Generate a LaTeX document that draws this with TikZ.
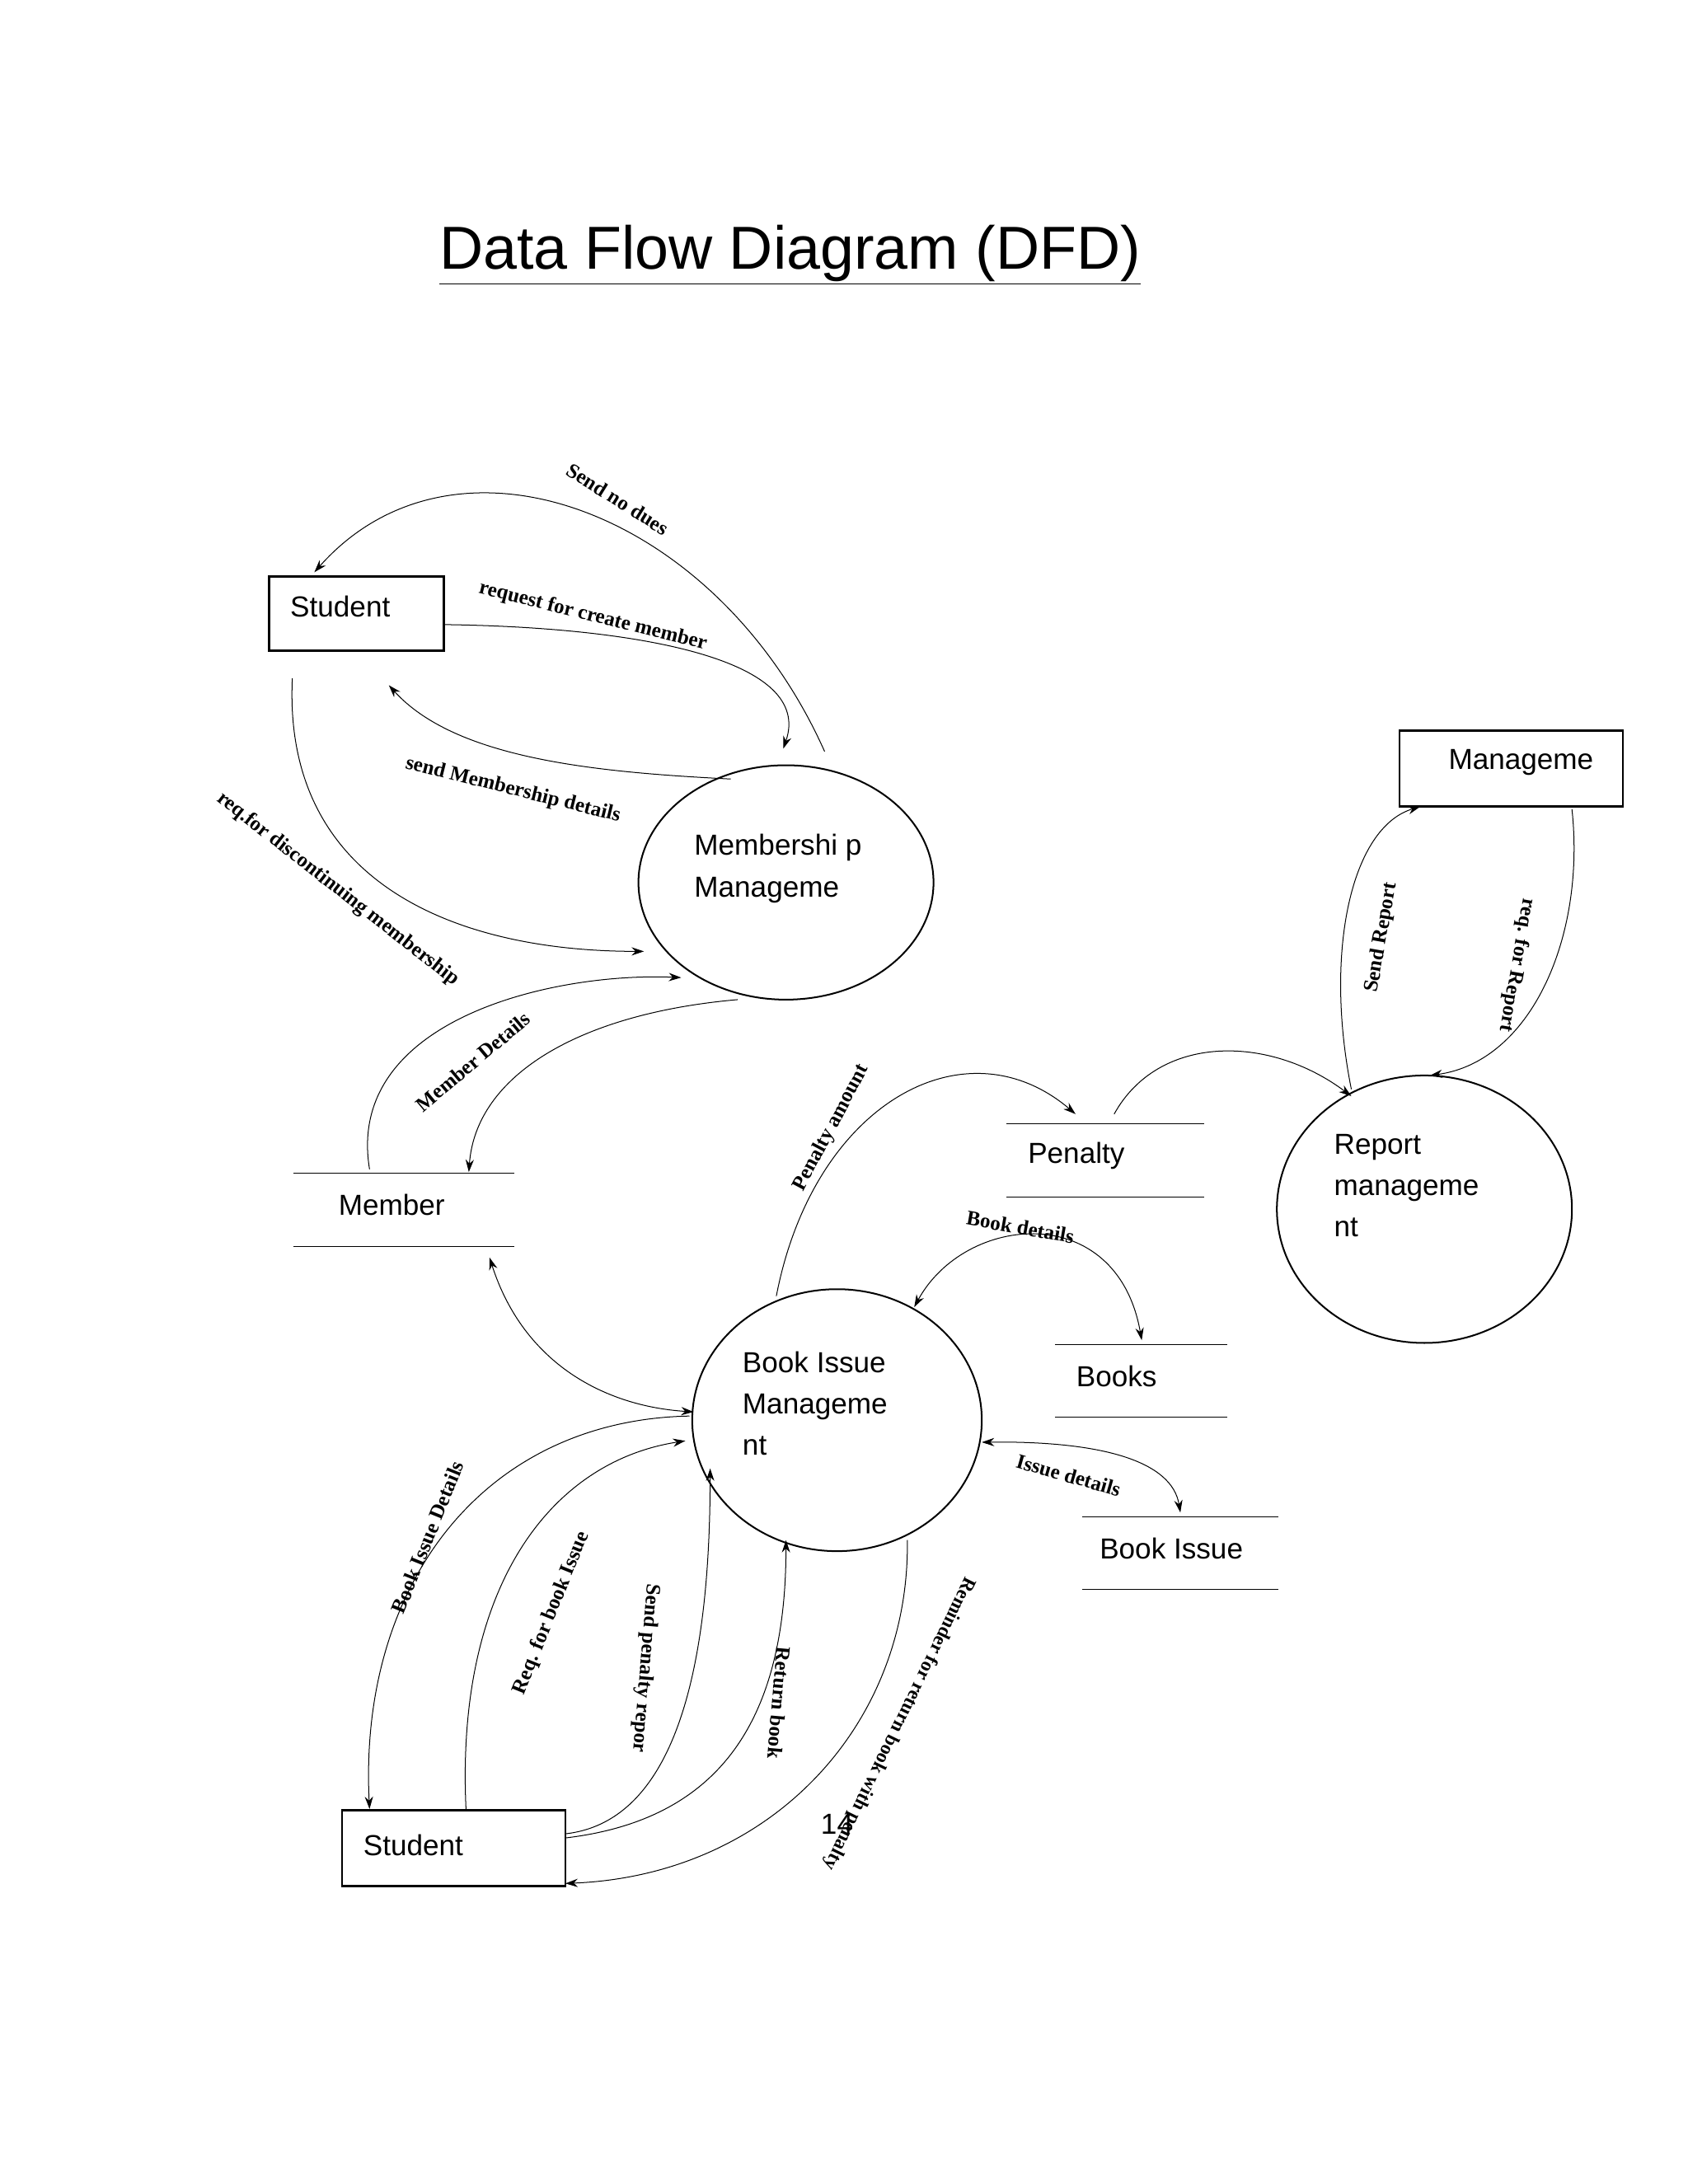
\documentclass[tikz,border=0pt]{standalone}
\usepackage{fontspec}
\setmainfont{Liberation Sans}
\newfontfamily\lbl{Liberation Serif}
\usetikzlibrary{arrows.meta}
\begin{document}
\begin{tikzpicture}[x=1pt,y=-1pt,
  flow/.style={-{Stealth[length=9pt,width=6pt]},line width=0.6pt},
  bflow/.style={{Stealth[length=9pt,width=6pt]}-{Stealth[length=9pt,width=6pt]},line width=0.6pt},
  lab/.style={font=\lbl\bfseries\fontsize{15}{15}\selectfont},
  txt/.style={font=\fontsize{21}{30}\selectfont,anchor=west,align=left},
  ent/.style={draw,line width=1.6pt},
  proc/.style={draw,line width=1.2pt},
  store/.style={line width=0.6pt}]
\useasboundingbox (0,0) rectangle (1224,1584);
\node[font=\fontsize{44}{48}\selectfont] (title) at (573,185) {\underline{Data Flow Diagram (DFD)}};
% entities
\draw[ent] (195,418) rectangle (322,472);
\node[txt] (stu1) at (207,440) {Student};
\draw[ent] (1015,530) rectangle (1177,585);
\node[txt] (mgmt) at (1047,553) {Manageme};
\draw[ent] (248,1313) rectangle (410,1368);
\node[txt] (stu2) at (260,1338) {Student};
% processes
\draw[proc] (570,640) ellipse [x radius=107,y radius=85];
\node[txt] (mp) at (500,630) {Membershi p\\Manageme};
\draw[proc] (1033,877) ellipse [x radius=107,y radius=97];
\node[txt] (rm) at (964,860) {Report\\manageme\\nt};
\draw[proc] (607,1030) ellipse [x radius=105,y radius=95];
\node[txt] (bim) at (535,1018) {Book Issue\\Manageme\\nt};
% stores
\draw[store] (730,815) -- (873,815) (730,868) -- (873,868);
\node[txt] (pen) at (742,838) {Penalty};
\draw[store] (213,851) -- (373,851) (213,904) -- (373,904);
\node[txt] (mem) at (242,874) {Member};
\draw[store] (765,975) -- (890,975) (765,1028) -- (890,1028);
\node[txt] (books) at (777,998) {Books};
\draw[store] (785,1100) -- (927,1100) (785,1153) -- (927,1153);
\node[txt] (bis) at (794,1123) {Book Issue};
\node[font=\fontsize{21}{24}\selectfont] (pg) at (607,1323) {14};
% coordinates
\coordinate (a1) at (598,545); \coordinate (a2) at (228,415);
\coordinate (b1) at (322,453); \coordinate (b2) at (568,543);
\coordinate (c1) at (530,565); \coordinate (c2) at (282,497);
\coordinate (d1) at (212,492); \coordinate (d2) at (467,690);
\coordinate (e1) at (268,848); \coordinate (e2) at (494,709);
\coordinate (f1) at (535,725); \coordinate (f2) at (340,850);
% flows
\draw[flow] (a1) .. controls (520,370) and (330,300) .. (a2);
\node[lab,rotate=-32] at (448,362) {Send no dues};
\draw[flow] (b1) .. controls (470,455) and (590,480) .. (b2);
\node[lab,rotate=-14] at (430,447) {request for create member};
\draw[flow] (c1) .. controls (430,560) and (330,550) .. (c2);
\node[lab,rotate=-14] at (372,573) {send Membership details};
\draw[flow] (d1) .. controls (205,640) and (330,690) .. (d2);
\node[lab,rotate=-38] at (245,645) {req.for discontinuing membership};
\draw[flow] (e1) .. controls (250,740) and (400,705) .. (e2);
\draw[flow] (f1) .. controls (420,735) and (345,780) .. (f2);
\node[lab,rotate=40] at (343,770) {Member Details};
\coordinate (g1) at (355,912); \coordinate (g2) at (503,1024);
\draw[bflow] (g1) .. controls (380,990) and (440,1020) .. (g2);
\coordinate (h1) at (563,940); \coordinate (h2) at (780,808);
\draw[flow] (h1) .. controls (590,800) and (700,740) .. (h2);
\node[lab,rotate=62] at (603,818) {Penalty amount};
\coordinate (i1) at (808,808); \coordinate (i2) at (980,795);
\draw[flow] (i1) .. controls (840,750) and (920,750) .. (i2);
\coordinate (j1) at (980,790); \coordinate (j2) at (1030,585);
\draw[flow] (j1) .. controls (960,690) and (980,600) .. (j2);
\node[lab,rotate=80] at (1002,680) {Send Report};
\coordinate (k1) at (1140,587); \coordinate (k2) at (1037,780);
\draw[flow] (k1) .. controls (1150,680) and (1110,770) .. (k2);
\node[lab,rotate=-100] at (1100,700) {req. for Report};
\coordinate (l1) at (663,948); \coordinate (l2) at (828,972);
\draw[bflow] (l1) .. controls (700,880) and (810,870) .. (l2);
\node[lab,rotate=-10] at (740,890) {Book details};
\coordinate (m1) at (712,1046); \coordinate (m2) at (856,1097);
\draw[bflow] (m1) .. controls (800,1045) and (850,1060) .. (m2);
\node[lab,rotate=-16] at (775,1070) {Issue details};
\coordinate (n1) at (500,1027); \coordinate (n2) at (268,1312);
\draw[flow] (n1) .. controls (350,1030) and (260,1150) .. (n2);
\node[lab,rotate=68] at (310,1115) {Book Issue Details};
\coordinate (o1) at (338,1313); \coordinate (o2) at (497,1045);
\draw[flow] (o1) .. controls (330,1150) and (400,1060) .. (o2);
\node[lab,rotate=68] at (400,1170) {Req. for book Issue};
\coordinate (p1) at (410,1330); \coordinate (p2) at (515,1065);
\draw[flow] (p1) .. controls (500,1320) and (515,1180) .. (p2);
\node[lab,rotate=-95] at (468,1210) {Send penalty repor};
\coordinate (q1) at (410,1333); \coordinate (q2) at (570,1117);
\draw[flow] (q1) .. controls (520,1320) and (570,1250) .. (q2);
\node[lab,rotate=-95] at (565,1235) {Return book};
\coordinate (r1) at (658,1117); \coordinate (r2) at (410,1366);
\draw[flow] (r1) .. controls (660,1250) and (560,1360) .. (r2);
\node[lab,rotate=-116,font=\lbl\bfseries\fontsize{14}{14}\selectfont] at (652,1250) {Reminder for return book with penalty};
\end{tikzpicture}
\end{document}
